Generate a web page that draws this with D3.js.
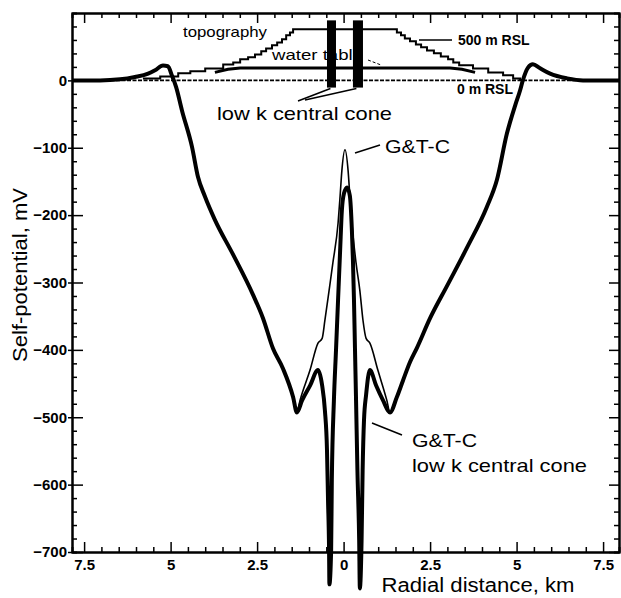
<!DOCTYPE html>
<html>
<head>
<meta charset="utf-8">
<script src="https://cdn.jsdelivr.net/npm/d3@7"></script>
<style>
  body { margin: 0; background: #fff; }
  svg { display: block; }
</style>
</head>
<body>
<script>
// ---- data (km from centre, mV / m) ----
const outerLeftKm = [-7.85, -7.04, -6.46, -6.03, -5.65, -5.45, -5.22, -5.08, -4.96, -4.84, -4.67, -4.38, -4.21, -4.01, -3.72, -3.20, -2.62, -2.33, -2.04, -1.75, -1.46, -1.35];
const outerLeftMv = [0, 0, 1.5, 5, 10, 15, 22, 21, 7, -10, -45, -99, -143, -172, -207, -258, -318, -353, -398, -428, -470, -493];

const outerRightKm = [1.34, 1.54, 1.72, 1.92, 2.12, 2.50, 2.99, 3.57, 4.14, 4.43, 4.72, 4.96, 5.10, 5.18, 5.33, 5.47, 5.68, 5.97, 6.46, 6.92, 7.96];
const outerRightMv = [-493, -470, -445, -418, -397, -353, -305, -248, -188, -148, -79, -37, -15, 0, 19, 24, 18, 10, 3, 0, 0];

// G&T-C (thin line), central part
const gtcInnerKm = [-1.26, -0.97, -0.74, -0.62, -0.54, -0.42, -0.31, -0.16, -0.10, -0.05, 0.04, 0.13, 0.18, 0.24, 0.36, 0.47, 0.56, 0.65, 0.76, 0.99, 1.25];
const gtcInnerMv = [-475, -430, -390, -383, -356, -312, -271, -212, -171, -134, -103, -134, -171, -212, -271, -312, -356, -383, -390, -430, -475];

// G&T-C low k central cone (thick line), central part
const lowkInnerKm = [-1.20, -0.97, -0.74, -0.62, -0.54, -0.48, -0.45, -0.42, -0.41, -0.36, -0.34, -0.28, -0.22, -0.16, -0.10, -0.05, 0.01, 0.10, 0.18, 0.24, 0.27, 0.30, 0.33, 0.36, 0.40, 0.45, 0.47, 0.52, 0.55, 0.59, 0.65, 0.76, 0.94, 1.14];
const lowkInnerMv = [-475, -453, -430, -453, -490, -549, -623, -697, -748, -697, -593, -475, -401, -326, -252, -193, -168, -159, -171, -223, -267, -326, -401, -475, -579, -682, -754, -682, -579, -504, -467, -430, -453, -475];

// topography (step line) and water table, metres
const topoKm = [-5.80, -5.30, -4.78, -4.43, -4.00, -3.48, -3.19, -2.99, -2.76, -2.56, -2.38, -2.24, -2.07, -1.92, -1.78, -1.66, -1.55, -1.46, 1.54, 1.66, 1.77, 1.92, 2.09, 2.24, 2.41, 2.61, 2.81, 3.02, 3.17, 3.34, 3.74, 4.18, 4.61, 4.90, 5.10];
const topoM = [25, 50, 88, 113, 150, 200, 225, 263, 288, 325, 363, 400, 438, 475, 513, 563, 600, 638, 600, 563, 525, 488, 450, 413, 375, 338, 300, 263, 225, 188, 150, 100, 63, 25, 0];

const waterKm = [-3.72, -3.34, -2.99, 3.08, 3.42, 3.80];
const waterM = [100, 138, 156, 156, 138, 100];

const coneLeftKm = [-0.48, -0.22];
const coneRightKm = [0.27, 0.56];
const coneTopM = 750;
const coneBaseM = -90;

const xMajorTicks = [-7.5, -5, -2.5, 0, 2.5, 5, 7.5];
const yMajorTicks = [0, -100, -200, -300, -400, -500, -600, -700];

// ---- layout ----
const w = 621;
const h = 598;
const plotLeft = 72, plotRight = 619, plotTop = 13, plotBottom = 552;
const font = '"Liberation Sans", Arial, sans-serif';

const xScale = d3.scaleLinear().domain([-7.85, 7.96]).range([plotLeft, plotRight]);
const yScale = d3.scaleLinear().domain([-700, 100]).range([plotBottom, plotTop]);
const elevScale = d3.scaleLinear().domain([0, 500]).range([yScale(0), yScale(0) - 40]);

const gtc = outerLeftKm.map((d, i) => [d, outerLeftMv[i]])
  .concat(gtcInnerKm.map((d, i) => [d, gtcInnerMv[i]]))
  .concat(outerRightKm.map((d, i) => [d, outerRightMv[i]]));
const lowk = outerLeftKm.map((d, i) => [d, outerLeftMv[i]])
  .concat(lowkInnerKm.map((d, i) => [d, lowkInnerMv[i]]))
  .concat(outerRightKm.map((d, i) => [d, outerRightMv[i]]));
const topo = topoKm.map((d, i) => [d, topoM[i]]);
const water = waterKm.map((d, i) => [d, waterM[i]]);

const svg = d3.select('body')
  .append('svg')
  .attr('width', w)
  .attr('height', h)
  .style('font-family', font);

const mvLine = d3.line()
  .x(d => xScale(d[0]))
  .y(d => yScale(d[1]))
  .curve(d3.curveMonotoneX);
const elevLine = d3.line().x(d => xScale(d[0])).y(d => elevScale(d[1]));

// topography & water table
svg.append('path')
  .datum(topo)
  .attr('d', elevLine.curve(d3.curveStepAfter))
  .attr('fill', 'none')
  .attr('stroke', '#000')
  .attr('stroke-width', 2);

svg.append('path')
  .datum(water)
  .attr('d', d3.line().x(d => xScale(d[0])).y(d => elevScale(d[1]))(water))
  .attr('fill', 'none')
  .attr('stroke', '#000')
  .attr('stroke-width', 3);

// 0 m RSL
svg.append('line')
  .attr('x1', xScale(-7.85)).attr('x2', xScale(7.96))
  .attr('y1', elevScale(0)).attr('y2', elevScale(0))
  .attr('stroke', '#000')
  .attr('stroke-width', 1.6)
  .attr('stroke-dasharray', '4,1.5');

// labels in the top part
svg.append('text').attr('x', 183).attr('y', 37).attr('font-size', 15)
  .attr('textLength', 84).attr('lengthAdjust', 'spacingAndGlyphs').text('topography');
svg.append('text').attr('x', 272).attr('y', 60).attr('font-size', 15)
  .attr('textLength', 91).attr('lengthAdjust', 'spacingAndGlyphs').text('water table');
svg.append('line').attr('x1', 368).attr('y1', 60).attr('x2', 381).attr('y2', 65)
  .attr('stroke', '#000').attr('stroke-width', 1).attr('stroke-dasharray', '3,2');

// low k central cone bars
[coneLeftKm, coneRightKm].forEach(c => {
  svg.append('rect')
    .attr('x', xScale(c[0]))
    .attr('y', elevScale(coneTopM))
    .attr('width', xScale(c[1]) - xScale(c[0]))
    .attr('height', elevScale(coneBaseM) - elevScale(coneTopM))
    .attr('fill', '#000');
});

svg.append('text').attr('x', 458).attr('y', 45).attr('font-size', 14).attr('font-weight', 'bold')
  .text('500 m RSL');
svg.append('line').attr('x1', 419).attr('y1', 40).attr('x2', 452).attr('y2', 40)
  .attr('stroke', '#000').attr('stroke-width', 1.5);
svg.append('text').attr('x', 457).attr('y', 94).attr('font-size', 14).attr('font-weight', 'bold')
  .text('0 m RSL');

svg.append('text').attr('x', 217).attr('y', 120).attr('font-size', 19)
  .attr('textLength', 175).attr('lengthAdjust', 'spacingAndGlyphs').text('low k central cone');
svg.append('line').attr('x1', 298).attr('y1', 101).attr('x2', xScale(coneLeftKm[0] + 0.1)).attr('y2', elevScale(coneBaseM) + 1)
  .attr('stroke', '#000').attr('stroke-width', 1.5);
svg.append('line').attr('x1', 305).attr('y1', 100).attr('x2', xScale(coneRightKm[0] + 0.1)).attr('y2', elevScale(coneBaseM) + 1)
  .attr('stroke', '#000').attr('stroke-width', 1.5);

// SP curves
svg.append('path')
  .datum(gtc)
  .attr('d', mvLine)
  .attr('fill', 'none')
  .attr('stroke', '#000')
  .attr('stroke-width', 1.6)
  .attr('stroke-linejoin', 'round');

svg.append('path')
  .datum(lowk)
  .attr('d', mvLine)
  .attr('fill', 'none')
  .attr('stroke', '#000')
  .attr('stroke-width', 4)
  .attr('stroke-linejoin', 'round');

// curve labels
svg.append('text').attr('x', 385).attr('y', 153).attr('font-size', 19)
  .attr('textLength', 65).attr('lengthAdjust', 'spacingAndGlyphs').text('G&T-C');
svg.append('line').attr('x1', 355).attr('y1', 153).attr('x2', 380).attr('y2', 145)
  .attr('stroke', '#000').attr('stroke-width', 1.5);

svg.append('text').attr('x', 412).attr('y', 447).attr('font-size', 19)
  .attr('textLength', 65).attr('lengthAdjust', 'spacingAndGlyphs').text('G&T-C');
svg.append('text').attr('x', 412).attr('y', 472).attr('font-size', 19)
  .attr('textLength', 175).attr('lengthAdjust', 'spacingAndGlyphs').text('low k central cone');
svg.append('line').attr('x1', 372).attr('y1', 423).attr('x2', 402).attr('y2', 435)
  .attr('stroke', '#000').attr('stroke-width', 1.5);

// ---- axes ----
const xMinorTicks = d3.range(-7.5, 7.51, 0.5).filter(d => !xMajorTicks.includes(d));
const yMinorTicks = d3.range(-700, 101, 20).filter(d => !yMajorTicks.includes(d) && d !== 100);

function styleAxis(g) {
  g.attr('font-family', font).attr('font-size', 15).attr('font-weight', 'bold');
  g.select('.domain').attr('stroke-width', 2);
  g.selectAll('.tick line').attr('stroke-width', 1.5);
  g.selectAll('.tick text').attr('fill', '#000');
}

// bottom
svg.append('g')
  .attr('transform', 'translate(0,' + plotBottom + ')')
  .call(d3.axisBottom(xScale).tickValues(xMajorTicks).tickSizeInner(-10).tickSizeOuter(0)
    .tickPadding(7).tickFormat(d => Math.abs(d)))
  .call(styleAxis);
svg.append('g')
  .attr('transform', 'translate(0,' + plotBottom + ')')
  .call(d3.axisBottom(xScale).tickValues(xMinorTicks).tickSize(-5).tickFormat(''))
  .call(styleAxis);

// top
svg.append('g')
  .attr('transform', 'translate(0,' + plotTop + ')')
  .call(d3.axisTop(xScale).tickValues(xMajorTicks).tickSizeInner(-10).tickSizeOuter(0).tickFormat(''))
  .call(styleAxis);
svg.append('g')
  .attr('transform', 'translate(0,' + plotTop + ')')
  .call(d3.axisTop(xScale).tickValues(xMinorTicks).tickSize(-5).tickFormat(''))
  .call(styleAxis);

// left
svg.append('g')
  .attr('transform', 'translate(' + plotLeft + ',0)')
  .call(d3.axisLeft(yScale).tickValues(yMajorTicks).tickSizeInner(4).tickSizeOuter(0)
    .tickPadding(1).tickFormat(d3.format('d')))
  .call(styleAxis)
  .call(g => g.selectAll('.tick line').attr('x1', 11));
svg.append('g')
  .attr('transform', 'translate(' + plotLeft + ',0)')
  .call(d3.axisLeft(yScale).tickValues(yMinorTicks).tickSize(-5).tickFormat(''))
  .call(styleAxis);

// right
svg.append('g')
  .attr('transform', 'translate(' + plotRight + ',0)')
  .call(d3.axisRight(yScale).tickValues(yMajorTicks).tickSizeInner(-10).tickSizeOuter(0).tickFormat(''))
  .call(styleAxis);
svg.append('g')
  .attr('transform', 'translate(' + plotRight + ',0)')
  .call(d3.axisRight(yScale).tickValues(yMinorTicks).tickSize(-5).tickFormat(''))
  .call(styleAxis);

// axis titles
svg.append('text')
  .attr('transform', 'translate(27,275) rotate(-90)')
  .attr('text-anchor', 'middle')
  .attr('font-size', 20)
  .attr('textLength', 174).attr('lengthAdjust', 'spacingAndGlyphs')
  .text('Self-potential, mV');

svg.append('text')
  .attr('x', 478)
  .attr('y', 592)
  .attr('text-anchor', 'middle')
  .attr('font-size', 20)
  .attr('textLength', 193).attr('lengthAdjust', 'spacingAndGlyphs')
  .text('Radial distance, km');
</script>
</body>
</html>
